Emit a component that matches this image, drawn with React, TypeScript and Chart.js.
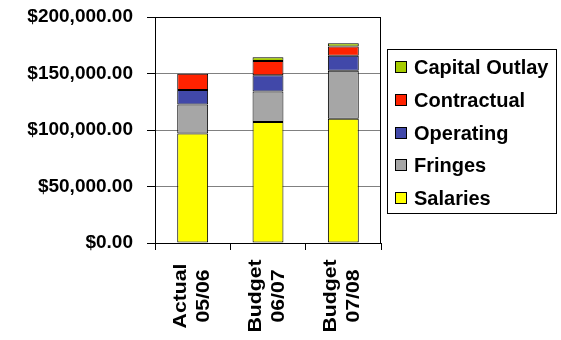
import React, { useEffect, useRef } from "react";
import { Chart, registerables } from "chart.js";

Chart.register(...registerables);

const categories = [["Actual", "05/06"], ["Budget", "06/07"], ["Budget", "07/08"]];
const seriesNames = ["Salaries", "Fringes", "Operating", "Contractual", "Capital Outlay"];
const salaries = [97000, 107000, 110000];
const fringes = [25500, 27000, 42500];
const operating = [13000, 14500, 13300];
const contractual = [14300, 12600, 8200];
const capitalOutlay = [0, 3300, 2700];
const yTicks = [0, 50000, 100000, 150000, 200000];

const colors = ["#FFFF00", "#A6A6A6", "#4148A9", "#FF2200", "#A6CC00"];
const FONT = '"Liberation Sans", Arial, sans-serif';

function money(v: number): string {
  const s = Math.round(v).toString().replace(/\B(?=(\d{3})+(?!\d))/g, ",");
  return "$" + s + ".00";
}

const decor = {
  id: "decor",
  afterDraw(chart: any) {
    const { ctx, chartArea: a, scales } = chart;
    ctx.save();
    ctx.strokeStyle = "#000";
    ctx.lineWidth = 1;
    const top = Math.round(a.top) + 0.5;
    const right = Math.round(a.right) - 0.5;
    ctx.beginPath();
    ctx.moveTo(Math.round(a.left), top);
    ctx.lineTo(right, top);
    ctx.lineTo(right, Math.round(a.bottom));
    ctx.stroke();

    // x labels
    const xs = scales.x;
    ctx.fillStyle = "#000";
    ctx.font = "bold 18px " + FONT;
    ctx.textAlign = "center";
    ctx.textBaseline = "alphabetic";
    categories.forEach((lines, i) => {
      const x = xs.getPixelForValue(i);
      ctx.save();
      ctx.translate(x, 296);
      ctx.rotate(-Math.PI / 2);
      ctx.scale(1.18, 1);
      const offs = [-7, 16];
      lines.forEach((ln, j) => ctx.fillText(ln, 0, offs[j]));
      ctx.restore();
    });

    // legend
    ctx.strokeStyle = "#000";
    ctx.strokeRect(387.5, 49.5, 169, 164);
    ctx.font = "bold 20px " + FONT;
    ctx.textAlign = "left";
    ctx.textBaseline = "middle";
    const ds = chart.data.datasets.slice().reverse();
    ds.forEach((d: any, i: number) => {
      const y = Math.round(67 + i * 32.8);
      ctx.fillStyle = d.backgroundColor;
      ctx.fillRect(395.5, y - 5.5, 11, 11);
      ctx.strokeRect(395.5, y - 5.5, 11, 11);
      ctx.fillStyle = "#000";
      ctx.fillText(d.label, 414, y + 1);
    });
    ctx.restore();
  },
};

export default function App() {
  const ref = useRef<HTMLCanvasElement>(null);
  useEffect(() => {
    const values = [salaries, fringes, operating, contractual, capitalOutlay];
    const chart = new Chart(ref.current!, {
      type: "bar",
      data: {
        labels: categories as any,
        datasets: seriesNames.map((n, i) => ({
          label: n,
          data: values[i],
          backgroundColor: colors[i],
          borderColor: "#000",
          borderWidth: 1,
          borderSkipped: false,
          barPercentage: 0.41,
          categoryPercentage: 1,
        })),
      },
      options: {
        animation: false,
        responsive: false,
        devicePixelRatio: 1,
        layout: { padding: { top: 17, right: 180, bottom: 90, left: 0 } },
        plugins: { legend: { display: false }, tooltip: { enabled: false } },
        scales: {
          x: {
            stacked: true,
            ticks: { display: false },
            grid: { offset: true, drawOnChartArea: false, drawTicks: true, tickLength: 7, tickColor: "#000" },
            border: { color: "#000", width: 1 },
          },
          y: {
            stacked: true,
            min: 0,
            max: 200000,
            afterBuildTicks: (s: any) => {
              s.ticks = yTicks.map((v) => ({ value: v }));
            },
            afterFit: (s: any) => {
              s.width = 155;
              s.paddingTop = 0;
              s.paddingBottom = 0;
            },
            ticks: {
              callback: (v: any) => money(Number(v)),
              color: "#000",
              font: { family: FONT, size: 19, weight: "bold" },
              padding: 14,
            },
            grid: {
              color: (c: any) => (c.tick && (c.tick.value === 0 || c.tick.value === 200000) ? "#000" : "#808080"),
              tickColor: "#000",
              tickLength: 8,
            },
            border: { color: "#000", width: 1 },
          },
        },
      },
      plugins: [decor],
    });
    return () => chart.destroy();
  }, []);
  return (
    <div style={{ position: "absolute", left: 0, top: 0, width: 561, height: 340, background: "#fff" }}>
      <canvas ref={ref} width={561} height={340} style={{ width: 561, height: 340 }} />
    </div>
  );
}
